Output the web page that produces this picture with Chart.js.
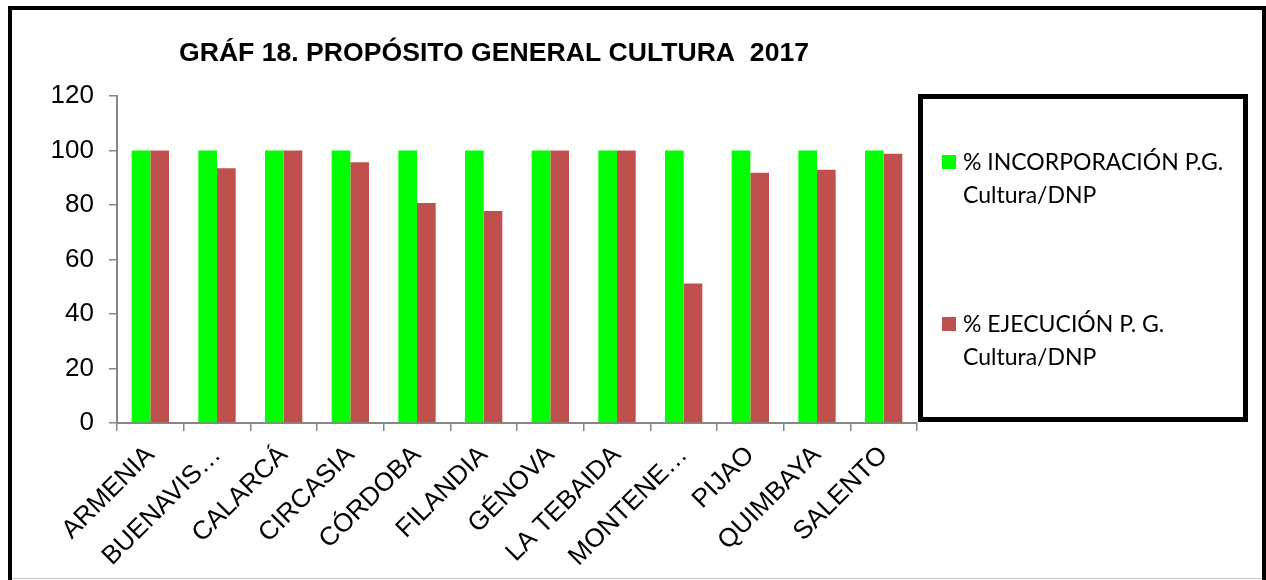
<!DOCTYPE html>
<html>
<head>
<meta charset="utf-8">
<script src="https://cdn.jsdelivr.net/npm/chart.js@4.4.1/dist/chart.umd.min.js"></script>
<style>
  html, body { margin: 0; padding: 0; background: #fff; }
  #wrap { width: 1266px; height: 580px; }
</style>
</head>
<body>
<div id="wrap"><canvas id="my-chart" width="1266" height="580"></canvas></div>
<script>
const chartTitle = "GRÁF 18. PROPÓSITO GENERAL CULTURA  2017";

const municipios = [
  "ARMENIA",
  "BUENAVIS…",
  "CALARCÁ",
  "CIRCASIA",
  "CÓRDOBA",
  "FILANDIA",
  "GÉNOVA",
  "LA TEBAIDA",
  "MONTENE…",
  "PIJAO",
  "QUIMBAYA",
  "SALENTO",
];

const incorporacion = [100, 100, 100, 100, 100, 100, 100, 100, 100, 100, 100, 100];
const ejecucion = [100, 93.5, 100, 95.7, 80.7, 77.8, 100, 100, 51.2, 91.8, 92.9, 98.8];

const seriesNames = [
  ["% INCORPORACIÓN P.G.", "Cultura/DNP"],
  ["% EJECUCIÓN P. G.", "Cultura/DNP"],
];
const seriesColors = ["#00ff00", "#c0504d"];

const axisGray = "#868686";
const axisFont = { family: "'Liberation Sans', Arial, sans-serif", size: 26 };

// frame, title and the boxed legend on the right
const decorations = {
  id: "decorations",
  beforeDraw(chart) {
    const ctx = chart.ctx;
    ctx.save();
    ctx.fillStyle = "#fff";
    ctx.fillRect(0, 0, chart.width, chart.height);
    ctx.restore();
  },
  afterDraw(chart) {
    const ctx = chart.ctx;
    ctx.save();
    // outer frame
    ctx.strokeStyle = "#000";
    ctx.lineWidth = 4;
    ctx.beginPath();
    ctx.moveTo(10, 580);
    ctx.lineTo(10, 8);
    ctx.lineTo(1264, 8);
    ctx.lineTo(1264, 580);
    ctx.stroke();
    ctx.strokeStyle = "#c8c8c8";
    ctx.lineWidth = 1;
    ctx.beginPath();
    ctx.moveTo(12, 578.5);
    ctx.lineTo(1262, 578.5);
    ctx.stroke();

    // title
    ctx.fillStyle = "#000";
    ctx.font = "bold 25px 'Liberation Sans', Arial, sans-serif";
    ctx.textAlign = "left";
    ctx.textBaseline = "alphabetic";
    const w = ctx.measureText(chartTitle).width;
    ctx.save();
    ctx.translate(179, 61);
    ctx.scale(630 / w, 1);
    ctx.fillText(chartTitle, 0, 0);
    ctx.restore();

    // legend box
    ctx.strokeStyle = "#000";
    ctx.lineWidth = 5;
    ctx.strokeRect(920.5, 96.5, 325, 323);

    ctx.font = "23px Lato, 'Open Sans', sans-serif";
    ctx.textAlign = "left";
    const rows = [170, 332];
    chart.data.datasets.forEach((ds, i) => {
      const y = rows[i];
      ctx.fillStyle = ds.backgroundColor;
      ctx.fillRect(942, y - 15, 14, 14);
      ctx.fillStyle = "#000";
      seriesNames[i].forEach((line, j) => {
        ctx.fillText(line, 963, y + j * 33);
      });
    });
    ctx.restore();
  },
};

new Chart(document.getElementById("my-chart"), {
  type: "bar",
  data: {
    labels: municipios,
    datasets: [
      {
        label: seriesNames[0].join(" "),
        data: incorporacion,
        backgroundColor: seriesColors[0],
        borderWidth: 0,
      },
      {
        label: seriesNames[1].join(" "),
        data: ejecucion,
        backgroundColor: seriesColors[1],
        borderWidth: 0,
      },
    ],
  },
  options: {
    responsive: false,
    devicePixelRatio: 1,
    animation: false,
    datasets: {
      bar: {
        categoryPercentage: 0.56,
        barPercentage: 1,
      },
    },
    layout: {
      padding: { left: 12, top: 96, right: 349, bottom: 0 },
    },
    plugins: {
      legend: { display: false },
      title: { display: false },
      tooltip: { enabled: false },
    },
    scales: {
      x: {
        grid: {
          offset: true,
          drawOnChartArea: false,
          drawTicks: true,
          tickLength: 8,
          color: axisGray,
          lineWidth: 1.5,
        },
        border: { color: axisGray, width: 2 },
        ticks: {
          autoSkip: false,
          minRotation: 45,
          maxRotation: 45,
          padding: 9,
          color: "#000",
          font: axisFont,
        },
        afterFit(scale) {
          scale.height = 157;
        },
      },
      y: {
        min: 0,
        max: 120,
        ticks: {
          stepSize: 20,
          padding: 15,
          color: "#000",
          font: axisFont,
        },
        grid: {
          drawOnChartArea: false,
          drawTicks: true,
          tickLength: 8,
          color: axisGray,
          lineWidth: 1.5,
        },
        border: { color: axisGray, width: 2 },
        afterFit(scale) {
          scale.width = 105;
        },
      },
    },
  },
  plugins: [decorations],
});
</script>
</body>
</html>
